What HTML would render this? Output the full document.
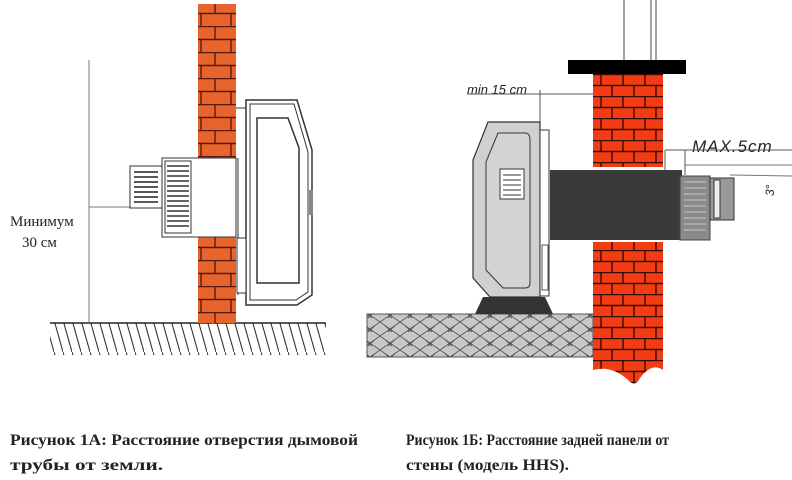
<!DOCTYPE html>
<html><head><meta charset="utf-8"><style>body{margin:0;background:#fff}svg{display:block}</style></head>
<body>
<svg width="792" height="480" viewBox="0 0 792 480" xmlns="http://www.w3.org/2000/svg">
<defs>
<pattern id="brick" x="198" y="0" width="30" height="26" patternUnits="userSpaceOnUse">
<rect width="30" height="26" fill="#e8642d"/>
<path d="M0 0.5H30M0 13.5H30M17 0V13.5M3 13.5V26" stroke="#5a1a10" stroke-width="1.4" fill="none"/>
</pattern>
<pattern id="brick2" x="593" y="74" width="44" height="22" patternUnits="userSpaceOnUse">
<rect width="44" height="22" fill="#f23c14"/>
<path d="M0 0.5H44M0 11.5H44M8 0V11.5M30 0V11.5M19 11.5V22M41 11.5V22" stroke="#3a0a05" stroke-width="1.4" fill="none"/>
</pattern>
<pattern id="herr" width="20" height="14" patternUnits="userSpaceOnUse">
<rect width="20" height="14" fill="#c8c8c8"/>
<path d="M0 0L10 7L20 0M0 14L10 7L20 14M5 3.5L12 10M15 3.5L8 10" stroke="#555" stroke-width="0.9" fill="none"/>
</pattern>
<pattern id="hatch" width="9" height="32" patternUnits="userSpaceOnUse">
<path d="M0 0L9 32" stroke="#333" stroke-width="1.1"/>
</pattern>
</defs>

<!-- LEFT FIGURE -->
<rect x="50" y="323" width="276" height="32" fill="url(#hatch)"/>
<line x1="50" y1="323" x2="326" y2="323" stroke="#222" stroke-width="1.5"/>
<rect x="198" y="4" width="38" height="154" fill="url(#brick)"/>
<rect x="198" y="237" width="38" height="86" fill="url(#brick)"/>
<line x1="89" y1="60" x2="89" y2="323" stroke="#777" stroke-width="1"/>
<line x1="89" y1="207" x2="130" y2="207" stroke="#777" stroke-width="1"/>
<text x="10" y="226" font-family="Liberation Serif, serif" font-size="15" fill="#222">Минимум</text>
<text x="22" y="247" font-family="Liberation Serif, serif" font-size="15" fill="#222">30 см</text>
<rect x="130" y="166" width="33" height="42" fill="#fff" stroke="#333"/>
<g stroke="#222" stroke-width="1.6">
<line x1="134" y1="172" x2="158" y2="172"/><line x1="134" y1="177" x2="158" y2="177"/><line x1="134" y1="182" x2="158" y2="182"/><line x1="134" y1="187" x2="158" y2="187"/><line x1="134" y1="192" x2="158" y2="192"/><line x1="134" y1="197" x2="158" y2="197"/><line x1="134" y1="202" x2="158" y2="202"/></g>
<rect x="162" y="158" width="74" height="79" fill="#fff" stroke="#333"/>
<rect x="165" y="161" width="26" height="72" fill="#fff" stroke="#333"/>
<g stroke="#333" stroke-width="1.4">
<line x1="167" y1="166" x2="189" y2="166"/><line x1="167" y1="171" x2="189" y2="171"/><line x1="167" y1="176" x2="189" y2="176"/><line x1="167" y1="181" x2="189" y2="181"/><line x1="167" y1="186" x2="189" y2="186"/><line x1="167" y1="191" x2="189" y2="191"/><line x1="167" y1="196" x2="189" y2="196"/><line x1="167" y1="201" x2="189" y2="201"/><line x1="167" y1="206" x2="189" y2="206"/><line x1="167" y1="211" x2="189" y2="211"/><line x1="167" y1="216" x2="189" y2="216"/><line x1="167" y1="221" x2="189" y2="221"/><line x1="167" y1="226" x2="189" y2="226"/></g>
<path d="M246 100H297L312 150V295L297 305H246Z" fill="#fff" stroke="#333" stroke-width="1.5"/>
<path d="M250 104H294L308 152V292L296 300H250Z" fill="none" stroke="#333"/>
<path d="M257 118H288L299 148V283H257Z" fill="none" stroke="#333" stroke-width="1.5"/>
<line x1="236" y1="108" x2="246" y2="108" stroke="#333"/>
<line x1="238" y1="158" x2="238" y2="295" stroke="#333"/>
<rect x="237" y="238" width="9" height="55" fill="#fff" stroke="#333"/>
<rect x="309" y="190" width="4" height="25" fill="#888"/>

<!-- RIGHT FIGURE -->
<line x1="624" y1="0" x2="624" y2="60" stroke="#444"/>
<line x1="651" y1="0" x2="651" y2="60" stroke="#444"/>
<line x1="656" y1="0" x2="656" y2="60" stroke="#444"/>
<rect x="568" y="60" width="118" height="14" fill="#000"/>
<rect x="367" y="314" width="226" height="43" fill="url(#herr)" stroke="#555"/>
<path d="M593 74H663V370Q652 362 640 378Q635 388 628 380Q612 365 593 370Z" fill="url(#brick2)"/>
<rect x="593" y="167" width="70" height="75" fill="#fff"/>
<text x="467" y="94" font-family="Liberation Sans, sans-serif" font-size="13" font-style="italic" fill="#222">min 15 cm</text>
<line x1="467" y1="94" x2="593" y2="94" stroke="#555"/>
<line x1="540" y1="90" x2="540" y2="125" stroke="#555"/>
<text x="692" y="152" font-family="Liberation Sans, sans-serif" font-size="17" font-style="italic" fill="#222" letter-spacing="1">MAX.5cm</text>
<line x1="665" y1="150" x2="792" y2="150" stroke="#555"/>
<line x1="665" y1="150" x2="665" y2="172" stroke="#555"/>
<line x1="685" y1="150" x2="685" y2="175" stroke="#555"/>
<line x1="685" y1="165" x2="792" y2="165" stroke="#777"/>
<line x1="730" y1="175" x2="792" y2="176" stroke="#777"/>
<text x="0" y="0" transform="translate(774,196) rotate(-90)" font-family="Liberation Sans, sans-serif" font-size="12" font-style="italic" fill="#222">3°</text>
<rect x="550" y="170" width="132" height="70" fill="#3a3a3a"/>
<rect x="680" y="176" width="30" height="64" fill="#8a8a8a" stroke="#444"/>
<g stroke="#ddd" stroke-width="0.8"><line x1="684" y1="182" x2="706" y2="182"/><line x1="684" y1="188" x2="706" y2="188"/><line x1="684" y1="194" x2="706" y2="194"/><line x1="684" y1="200" x2="706" y2="200"/><line x1="684" y1="206" x2="706" y2="206"/><line x1="684" y1="212" x2="706" y2="212"/><line x1="684" y1="218" x2="706" y2="218"/><line x1="684" y1="224" x2="706" y2="224"/><line x1="684" y1="230" x2="706" y2="230"/></g>
<rect x="710" y="178" width="24" height="42" fill="#999" stroke="#333"/>
<rect x="714" y="180" width="6" height="38" fill="#eee" stroke="#333"/>
<path d="M483 297H545L553 314H475Z" fill="#333"/>
<path d="M488 122H540V297H490L473 278V160Z" fill="#d0d0d0" stroke="#333" stroke-width="1.2"/>
<path d="M498 133H525Q530 133 530 140V283Q530 288 525 288H503L486 270V162Z" fill="#d4d4d4" stroke="#333"/>
<rect x="500" y="169" width="24" height="30" fill="#fff" stroke="#333"/>
<g stroke="#333"><line x1="503" y1="175" x2="521" y2="175"/><line x1="503" y1="180" x2="521" y2="180"/><line x1="503" y1="185" x2="521" y2="185"/><line x1="503" y1="190" x2="521" y2="190"/><line x1="503" y1="195" x2="521" y2="195"/></g>
<rect x="540" y="130" width="9" height="166" fill="#fff" stroke="#333"/>
<rect x="542" y="245" width="6" height="45" fill="#fff" stroke="#555"/>

<g font-family="Liberation Serif, serif" font-weight="bold" font-size="16" fill="#222">
<text x="10" y="445" textLength="348" lengthAdjust="spacingAndGlyphs">Рисунок 1А: Расстояние отверстия дымовой</text>
<text x="10" y="470" textLength="153" lengthAdjust="spacingAndGlyphs">трубы от земли.</text>
<text x="406" y="445" textLength="263" lengthAdjust="spacingAndGlyphs">Рисунок 1Б: Расстояние задней панели от</text>
<text x="406" y="470" textLength="163" lengthAdjust="spacingAndGlyphs">стены (модель HHS).</text>
</g>
</svg>
</body></html>
